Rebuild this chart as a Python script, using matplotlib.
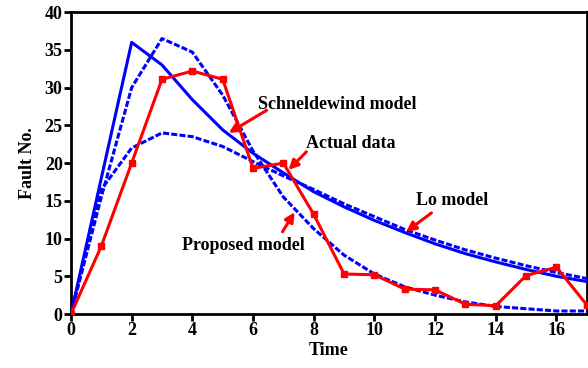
import matplotlib.pyplot as plt

# Data
time = list(range(18))
actual = [0, 9.0, 20.0, 31.1, 32.2, 31.1, 19.3, 20.0, 13.2, 5.3, 5.2, 3.3, 3.2, 1.3, 1.1, 5.1, 6.2, 1.2]
schneldewind = [0, 18.0, 36.0, 33.0, 28.4, 24.4, 21.3, 18.7, 16.2, 14.2, 12.4, 10.8, 9.3, 8.0, 6.9, 5.9, 5.0, 4.3]
lo_model = [0, 16.5, 22.0, 24.0, 23.5, 22.2, 20.2, 18.3, 16.5, 14.6, 12.9, 11.2, 9.8, 8.5, 7.4, 6.4, 5.5, 4.7]
proposed = [0, 15.5, 30.0, 36.5, 34.7, 29.0, 21.6, 15.5, 11.3, 7.8, 5.3, 3.6, 2.5, 1.6, 1.0, 0.7, 0.4, 0.4]

# label text, text position, arrow tail, arrow tip
labels = ['Schneldewind model', 'Actual data', 'Lo model', 'Proposed model']
text_pos = [(6.15, 27.7), (7.76, 22.6), (11.38, 15.0), (3.65, 9.1)]
arrow_tail = [(6.45, 27.0), (7.76, 21.5), (11.88, 13.4), (6.97, 10.9)]
arrow_tip = [(5.2, 24.0), (7.17, 19.1), (11.05, 10.9), (7.37, 13.5)]

plt.rcParams['font.family'] = ['Liberation Serif', 'DejaVu Serif']

fig = plt.figure(figsize=(5.88, 3.68), dpi=100)
ax = fig.add_axes([0.1207, 0.1467, 0.8773, 0.8203])

ax.plot(time, schneldewind, color='#0000ff', lw=2.2, zorder=3)
ax.plot(time, lo_model, color='#0000ff', lw=2.2, linestyle=(0, (2, 0.7)), zorder=3)
ax.plot(time, proposed, color='#0000ff', lw=2.2, linestyle=(0, (2, 0.7)), zorder=3)
ax.plot(time, actual, color='#ff0000', lw=2.2, marker='s', markersize=5, zorder=4)

ax.set_xlim(0, 17)
ax.set_ylim(0, 40)
ax.set_xticks(range(0, 17, 2))
ax.set_yticks(range(0, 41, 5))
for s in ax.spines.values():
    s.set_linewidth(2)
ax.tick_params(direction='out', length=5, width=2, labelsize=13, pad=1)
for lab in ax.get_xticklabels() + ax.get_yticklabels():
    lab.set_fontweight('bold')

ax.set_xlabel('Time', fontsize=13, fontweight='bold', labelpad=2)
ax.set_ylabel('Fault No.', fontsize=13, fontweight='bold', labelpad=6)

arrow = dict(arrowstyle='-|>', color='#ff0000', lw=2.2, mutation_scale=14, shrinkA=0, shrinkB=0)
for txt, pos, tail, tip in zip(labels, text_pos, arrow_tail, arrow_tip):
    ax.text(pos[0], pos[1], txt, fontsize=13, fontweight='bold', ha='left', va='center')
    ax.annotate('', xy=tip, xytext=tail, arrowprops=arrow)

fig.savefig('out.png', dpi=100)
